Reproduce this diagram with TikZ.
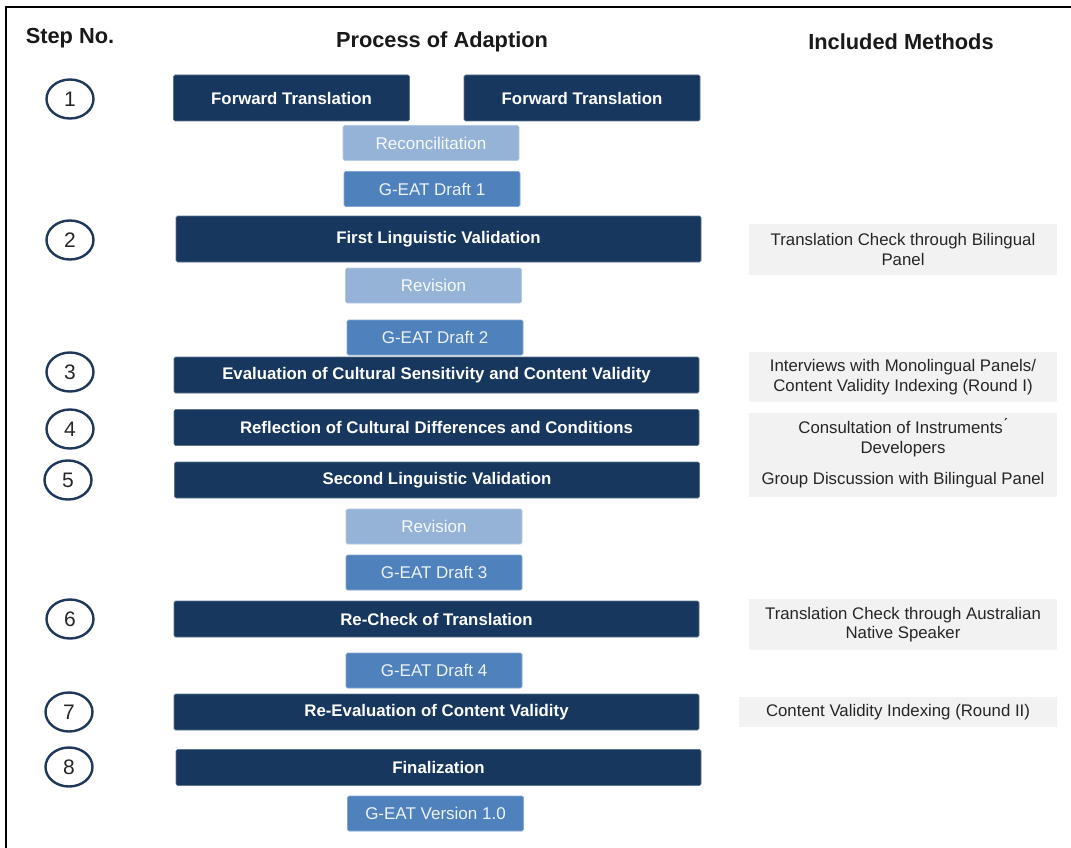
\documentclass[tikz,border=0pt]{standalone}
\usepackage{fontspec}
\setmainfont{Liberation Sans}
\usepackage{tikz}
\usetikzlibrary{shapes.geometric}
\definecolor{navy}{RGB}{23,55,94}
\definecolor{midblue}{RGB}{79,129,189}
\definecolor{lightblue}{RGB}{149,179,215}
\definecolor{greybox}{RGB}{242,242,242}
\definecolor{ringcol}{RGB}{31,56,90}
\begin{document}
\begin{tikzpicture}[x=1pt,y=-1pt,
	stepbox/.style={fill=navy,draw=navy!70,line width=0.6pt,rounded corners=1.5pt,
		minimum width=525pt,minimum height=36pt,inner sep=0pt,text=white,
		font=\fontsize{16.8}{19}\selectfont\bfseries},
	transbox/.style={stepbox,minimum width=236pt,minimum height=46pt},
	revbox/.style={fill=lightblue,draw=lightblue!70!white,line width=0.6pt,rounded corners=1.5pt,
		minimum width=176pt,minimum height=35pt,inner sep=0pt,text=white!92!lightblue,
		font=\fontsize{17}{19}\selectfont},
	draftbox/.style={revbox,fill=midblue,draw=midblue!70!white,text=white!90!midblue},
	methodbox/.style={fill=greybox,draw=none,minimum width=308pt,inner sep=0pt,
		align=center,text=black!85,font=\fontsize{16.8}{19.5}\selectfont},
	stepno/.style={ellipse,draw=ringcol,line width=2.4pt,minimum width=47pt,
		minimum height=39pt,inner sep=0pt,text=black!85,font=\fontsize{21}{24}\selectfont},
	header/.style={font=\fontsize{21.8}{24}\selectfont\bfseries,text=black!90}]
	\useasboundingbox (0,0) rectangle (1071,848);
	%% frame
	\draw[line width=2.8pt] (6,848) -- (6,7) -- (1071,7);
	%% headers
	\node[header] (hstep) at (70,38) {Step No.};
	\node[header] (hproc) at (442,42) {Process of Adaption};
	\node[header] (hmeth) at (901,42) {Included Methods};
	%% step numbers
	\node[stepno] (n1) at (70,99) {1};
	\node[stepno] (n2) at (70,240) {2};
	\node[stepno] (n3) at (70,372) {3};
	\node[stepno] (n4) at (70,429) {4};
	\node[stepno] (n5) at (68,480) {5};
	\node[stepno] (n6) at (70,619) {6};
	\node[stepno] (n7) at (69,712) {7};
	\node[stepno] (n8) at (69,767) {8};
	%% process of adaption
	\node[transbox] (ft1) at (291.5,98) {Forward Translation};
	\node[transbox] (ft2) at (582,98) {Forward Translation};
	\node[revbox] (recon) at (431,143) {Reconcilitation};
	\node[draftbox] (draft1) at (432,189) {G-EAT Draft 1};
	\node[stepbox,minimum height=46pt] (lingone) at (438.5,239) {First Linguistic Validation};
	\node[revbox] (rev1) at (433.5,285.5) {Revision};
	\node[draftbox] (draft2) at (435,337.5) {G-EAT Draft 2};
	\node[stepbox] (evalcs) at (436.5,375) {Evaluation of Cultural Sensitivity and Content Validity};
	\node[stepbox] (reflect) at (436.5,427.5) {Reflection of Cultural Differences and Conditions};
	\node[stepbox] (lingtwo) at (437,480) {Second Linguistic Validation};
	\node[revbox] (rev2) at (434,526.5) {Revision};
	\node[draftbox] (draft3) at (434,572.5) {G-EAT Draft 3};
	\node[stepbox] (recheck) at (436.5,619) {Re-Check of Translation};
	\node[draftbox] (draft4) at (434,670.5) {G-EAT Draft 4};
	\node[stepbox] (reeval) at (436.5,712) {Re-Evaluation of Content Validity};
	\node[stepbox] (final) at (438.5,767.5) {Finalization};
	\node[draftbox] (version) at (435.5,813.5) {G-EAT Version 1.0};
	%% included methods
	\node[methodbox,minimum height=51pt] (m2) at (903,249.5) {Translation Check through Bilingual\\Panel};
	\node[methodbox,minimum height=50pt] (m3) at (903,377) {Interviews with Monolingual Panels/\\Content Validity Indexing (Round I)};
	\node[methodbox,minimum height=49pt] (m4) at (903,437.5) {Consultation of Instruments\'{}\\Developers};
	\node[methodbox,minimum height=35pt,anchor=north] (m5) at (903,462) {Group Discussion with Bilingual Panel};
	\node[methodbox,minimum height=51pt] (m6) at (903,624.5) {Translation Check through Australian\\Native Speaker};
	\node[methodbox,minimum width=318pt,minimum height=30pt] (m7) at (898,712) {Content Validity Indexing (Round II)};
\end{tikzpicture}
\end{document}
